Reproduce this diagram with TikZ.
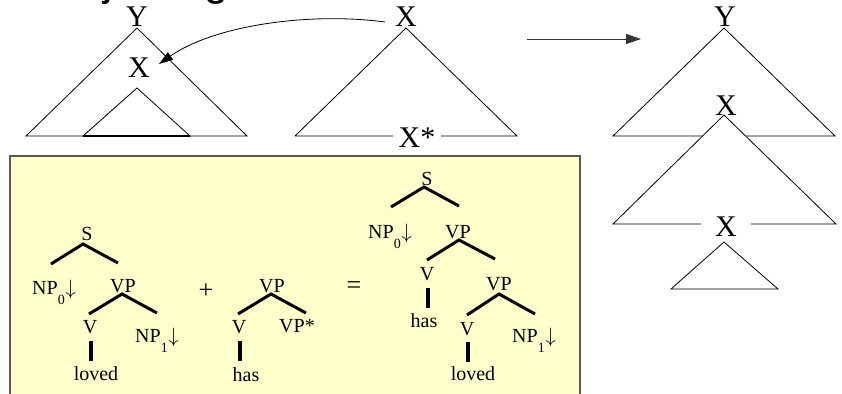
\documentclass[tikz,border=0pt]{standalone}
\usepackage{fontspec}
\setmainfont{Liberation Serif}
\newfontfamily\titlefont{Liberation Sans}
\usetikzlibrary{arrows.meta}
\definecolor{boxyellow}{RGB}{255,255,204}
\definecolor{boxline}{RGB}{90,90,78}
\newcommand{\sbs}[1]{\raisebox{-10pt}{\fontsize{14}{14}\selectfont #1}}
\newcommand{\subst}{\kern0.5pt$\downarrow$}
\tikzset{
  big/.style={font=\fontsize{30}{30}\selectfont, inner sep=0pt, anchor=base},
  lab/.style={font=\fontsize{20}{20}\selectfont, inner sep=0pt, anchor=base},
  oper/.style={font=\fontsize{26}{26}\selectfont, inner sep=0pt, anchor=center},
  tri/.style={line width=0.8pt, line join=miter},
  branch/.style={line width=3pt},
  stemline/.style={line width=4pt},
  bigarrow/.style={line width=0.9pt, -{Triangle[length=15pt,width=10pt]}},
}
\begin{document}
\begin{tikzpicture}[x=1pt,y=-1pt]
\useasboundingbox (0,0) rectangle (842,393);
% clipped title (only descenders visible)
\node[anchor=base west, inner sep=0pt, font=\titlefont\fontsize{43}{43}\selectfont] (title) at (51,-4) {Adjoining};

% ---------- left initial tree ----------
\node[big] (yl) at (137,27) {Y};
\coordinate (ylA) at (137,28);
\coordinate (ylL) at (26,136);
\coordinate (ylR) at (247,136);
\draw[tri] (ylA) -- (ylL) -- (ylR) -- cycle;
\node[big] (xin) at (139,78) {X};
\coordinate (inA) at (137,88);
\coordinate (inL) at (83,136);
\coordinate (inR) at (190,136);
\draw[tri] (inA) -- (inL) -- (inR) -- cycle;
\draw[line width=1.6pt] (inL) -- (inR);

% ---------- auxiliary tree ----------
\node[big] (xm) at (406,27) {X};
\coordinate (xmA) at (406,28);
\coordinate (xmL) at (295,136);
\coordinate (xmR) at (517,136);
\draw[tri] (xmL) -- (xmA) -- (xmR) -- (xmL);
\node[big, fill=white, inner xsep=6pt] (xstar) at (417,147) {X*};

% curved arrow
\coordinate (arrS) at (385,22);
\coordinate (arrE) at (159,64);
\draw[line width=0.8pt, -{Triangle[length=14pt,width=9pt]}] (arrS) .. controls (310,12) and (215,25) .. (arrE);

% horizontal arrow
\coordinate (hS) at (527,39);
\coordinate (hE) at (641,39);
\draw[bigarrow, draw=black!80] (hS) -- (hE);

% ---------- derived tree ----------
\node[big] (yr) at (725,27) {Y};
\coordinate (yrA) at (724,28);
\coordinate (yrL) at (613,136);
\coordinate (yrR) at (835,136);
\draw[tri] (yrA) -- (yrL) -- (yrR) -- cycle;
\coordinate (mA) at (724,115);
\coordinate (mL) at (613,224);
\coordinate (mR) at (836,224);
\draw[tri, fill=white] (mA) -- (mL) -- (mR) -- cycle;
\node[big] (xr) at (726,115) {X};
\node[big, fill=white, inner xsep=14pt] (xr2) at (726,236) {X};
\coordinate (lA) at (724,242);
\coordinate (lL) at (671,289);
\coordinate (lR) at (778,289);
\draw[tri] (lA) -- (lL) -- (lR) -- cycle;

% ---------- yellow box ----------
\draw[line width=1.5pt, draw=boxline, fill=boxyellow] (10,420) -- (10,156) -- (580,156) -- (580,420);

% tree 1: S -> NP0 VP
\node[lab] (s1) at (87,240) {S};
\coordinate (s1a) at (83,244);
\coordinate (s1l) at (51,264);
\coordinate (s1r) at (118,263);
\draw[branch] (s1l) -- (s1a) -- (s1r);
\node[lab, anchor=base west] (np01) at (32,294) {NP\sbs{0}\subst};
\node[lab] (vp1) at (123,292) {VP};
\coordinate (vp1a) at (122,294);
\coordinate (vp1l) at (89,314);
\coordinate (vp1r) at (157,313);
\draw[branch] (vp1l) -- (vp1a) -- (vp1r);
\node[lab] (v1) at (90,333) {V};
\coordinate (v1t) at (91,341);
\coordinate (v1b) at (91,361);
\draw[stemline] (v1t) -- (v1b);
\node[lab] (loved1) at (96,380) {loved};
\node[lab, anchor=base west] (np11) at (135,342) {NP\sbs{1}\subst};

\node[oper] (plus) at (206,291) {+};

% tree 2: VP -> V VP*
\node[lab] (vp2) at (272,292) {VP};
\coordinate (vp2a) at (271,294);
\coordinate (vp2l) at (238,314);
\coordinate (vp2r) at (306,313);
\draw[branch] (vp2l) -- (vp2a) -- (vp2r);
\node[lab] (v2) at (239,333) {V};
\coordinate (v2t) at (240,341);
\coordinate (v2b) at (240,361);
\draw[stemline] (v2t) -- (v2b);
\node[lab] (has2) at (246,381) {has};
\node[lab] (vpstar) at (297,332) {VP*};

\node[oper] (eq) at (354,288) {=};

% tree 3: derived
\node[lab] (s3) at (427,185) {S};
\coordinate (s3a) at (424,187);
\coordinate (s3l) at (391,207);
\coordinate (s3r) at (459,206);
\draw[branch] (s3l) -- (s3a) -- (s3r);
\node[lab, anchor=base west] (np03) at (368,238) {NP\sbs{0}\subst};
\node[lab] (vp3) at (458,238) {VP};
\coordinate (vp3a) at (459,240);
\coordinate (vp3l) at (427,260);
\coordinate (vp3r) at (495,259);
\draw[branch] (vp3l) -- (vp3a) -- (vp3r);
\node[lab] (v3) at (427,280) {V};
\coordinate (v3t) at (428,288);
\coordinate (v3b) at (428,308);
\draw[stemline] (v3t) -- (v3b);
\node[lab] (has3) at (424,327) {has};
\node[lab] (vp4) at (499,290) {VP};
\coordinate (vp4a) at (499,294);
\coordinate (vp4l) at (467,315);
\coordinate (vp4r) at (535,314);
\draw[branch] (vp4l) -- (vp4a) -- (vp4r);
\node[lab] (v4) at (467,335) {V};
\coordinate (v4t) at (468,342);
\coordinate (v4b) at (468,362);
\draw[stemline] (v4t) -- (v4b);
\node[lab] (loved4) at (473,380) {loved};
\node[lab, anchor=base west] (np14) at (512,342) {NP\sbs{1}\subst};
\end{tikzpicture}
\end{document}
